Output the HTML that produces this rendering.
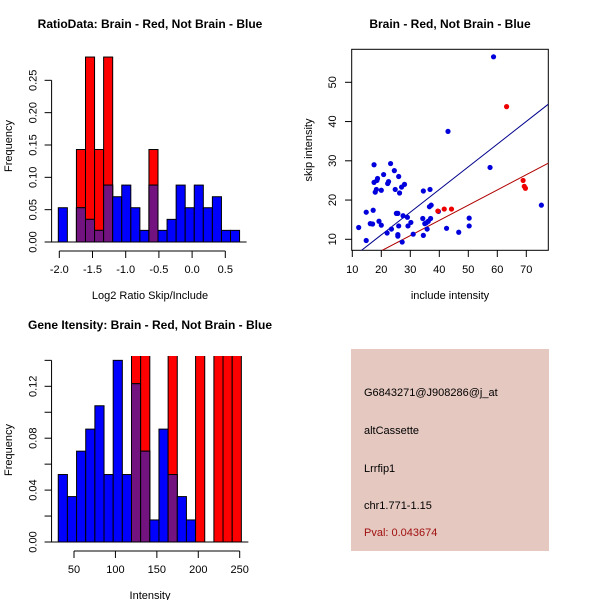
<!DOCTYPE html>
<html><head><meta charset="utf-8"><style>
body{margin:0;background:#fff}
svg{display:block;font-family:"Liberation Sans",sans-serif}
</style></head><body>
<svg id="s" width="600" height="600" viewBox="0 0 600 600">
<defs>
<clipPath id="c3"><rect x="40" y="356" width="220" height="200"/></clipPath>
<clipPath id="c2"><rect x="351.7" y="49.3" width="196.6" height="201"/></clipPath>
</defs>
<g id="p1"></g>
<g id="p2"></g>
<g id="p3"></g>
<g>
<rect x="351" y="349" width="198" height="202" fill="#e5c8c0"/>
<text x="364" y="396" font-size="11">G6843271@J908286@j_at</text>
<text x="364" y="434" font-size="11">altCassette</text>
<text x="364" y="472" font-size="11">Lrrfip1</text>
<text x="364" y="509" font-size="11">chr1.771-1.15</text>
<text x="364" y="536" font-size="11" fill="#a01010">Pval: 0.043674</text>
</g>
</svg>
<script>
// Panel 1 data
const h1Start=-2.015, h1Width=0.1365;
const h1Blue=[0.053,0,0.053,0.035,0.018,0.088,0.070,0.088,0.053,0.018,0.088,0.018,0.035,0.088,0.053,0.088,0.053,0.070,0.018,0.018];
const h1Red=[0,0,0.143,0.286,0.143,0.286,0,0,0,0,0.143,0,0,0,0,0,0,0,0,0];
const h1XTicks=[-2.0,-1.5,-1.0,-0.5,0.0,0.5];
const h1YTicks=[0,0.05,0.10,0.15,0.20,0.25];
// Panel 2 data
const blueX=[12.2,14.8,14.8,16.2,17,17.2,17.5,17.5,17.9,18.3,18.5,18.7,19.2,20,20,20.8,22,22.2,22.5,23.2,23.5,24.5,24.8,25.2,25.7,25.7,25.7,26,26,26.3,27,27.2,27.5,28,29,29.2,30.2,31,34.3,34.5,34.5,35,35.5,35.8,36.2,36.6,36.8,37,37.2,39.7,42.5,43,46.7,50.3,50.3,57.5,58.7,75.2];
const blueY=[13,9.7,16.9,14,13.9,17.4,24.5,29,22,22.7,25,25.5,14.6,13.6,22.5,26.5,11.6,24.2,24.7,29.3,12.6,27.5,22.7,16.6,16.6,11.2,10.8,26,13.4,21.8,23.3,9.3,16,24,15.6,13.4,14.3,11.3,15.3,22.3,11,14,14.2,12.6,14.6,18.3,22.7,15.3,18.7,17.1,12.8,37.5,11.8,15.4,13.4,28.3,56.5,18.7];
const redX=[39.5,41.7,44.2,63.2,68.9,69.3,69.7];
const redY=[17.2,17.7,17.7,43.8,25,23.5,23];
const blueFit=[-0.43,0.578];
const redFit=[-0.7,0.388];
const s2XTicks=[10,20,30,40,50,60,70];
const s2YTicks=[10,20,30,40,50];
// Panel 3 data
const h3Start=31, h3Width=11.05;
const h3Blue=[0.052,0.035,0.070,0.087,0.105,0.052,0.140,0.052,0.122,0.070,0.017,0.087,0.052,0.035,0.017,0,0,0,0,0];
const h3Red=[0,0,0,0,0,0,0,0,0.25,0.25,0,0,0.25,0,0,0.25,0,0.25,0.25,0.25];
const h3XTicks=[50,100,150,200,250];
const h3YTicks=[0,0.02,0.04,0.06,0.08,0.10,0.12,0.14];

const NS='http://www.w3.org/2000/svg';
function mk(p,t,a){const e=document.createElementNS(NS,t);for(const k in a)e.setAttribute(k,a[k]);p.appendChild(e);return e;}
function txt(p,x,y,s,o){const e=mk(p,'text',Object.assign({x:x,y:y,'text-anchor':'middle','font-size':11},o||{}));e.textContent=s;return e;}

function hist(g,start,w,blue,red,xs,ys,xT,yT,yLab,clip){
  const gb=mk(g,'g',clip?{'clip-path':clip}:{});
  for(let i=0;i<blue.length;i++){
    const x0=xs(start+i*w),x1=xs(start+(i+1)*w);
    const b=blue[i],r=red[i];
    const draw=(v,c,nm)=>{if(v<=0)return;const e=mk(gb,'rect',{x:x0,y:ys(v),width:x1-x0,height:ys(0)-ys(v),fill:c,stroke:'#000','stroke-width':1});
      
      };
    if(r>=b){draw(r,'#ff0000','bar-red');draw(b,'#0000ff','bar-blue');}else{draw(b,'#0000ff','bar-blue');draw(r,'#ff0000','bar-red');}
    if(r>0&&b>0)draw(Math.min(r,b),'#72137f','bar-overlap');
  }
  const by=ys(0);
  mk(g,'line',{x1:xs(start)-7,x2:xs(start+blue.length*w)+7,y1:by,y2:by,stroke:'#000'});
  const ax=mk(g,'g',{});
  
  
  const ty=by+9;
  mk(ax,'line',{x1:xs(xT[0]),x2:xs(xT[xT.length-1]),y1:ty,y2:ty,stroke:'#000'});
  xT.forEach(v=>{mk(ax,'line',{x1:xs(v),x2:xs(v),y1:ty,y2:ty+7,stroke:'#000'});txt(ax,xs(v),ty+22,v.toFixed(v%1||xT.some(t=>t%1)?1:0));});
  const ay=mk(g,'g',{});
  
  
  const lx=xs(start)-6.7;
  mk(ay,'line',{x1:lx,x2:lx,y1:ys(yT[0]),y2:ys(yT[yT.length-1]),stroke:'#000'});
  yT.forEach((v,i)=>{mk(ay,'line',{x1:lx,x2:lx-7,y1:ys(v),y2:ys(v),stroke:'#000'});
    if(yLab(i))txt(ay,0,0,v.toFixed(2),{transform:`translate(${lx-15},${ys(v)}) rotate(-90)`});});
}

// Panel 1
(function(){
  const g=document.getElementById('p1');
  const xs=v=>59.3+(v+2)*66.4, ys=v=>242-v*646.7;
  hist(g,h1Start,h1Width,h1Blue,h1Red,xs,ys,h1XTicks,h1YTicks,()=>true,null);
  txt(g,150,28,'RatioData: Brain - Red, Not Brain - Blue',{'font-weight':'bold','font-size':12,});
  txt(g,150,299,'Log2 Ratio Skip/Include',{});
  txt(g,0,0,'Frequency',{transform:'translate(12,146) rotate(-90)',});
})();

// Panel 3
(function(){
  const g=document.getElementById('p3');
  const xs=v=>74+(v-50)*0.8285, ys=v=>542-v*1297.5;
  hist(g,h3Start,h3Width,h3Blue,h3Red,xs,ys,h3XTicks,h3YTicks,i=>i%2==0,'url(#c3)');
  txt(g,150,329,'Gene Itensity: Brain - Red, Not Brain - Blue',{'font-weight':'bold','font-size':12,});
  txt(g,150,599,'Intensity',{});
  txt(g,0,0,'Frequency',{transform:'translate(12,450) rotate(-90)',});
})();

// Panel 2
(function(){
  const g=document.getElementById('p2');
  const xs=v=>352.3+(v-10)*2.9, ys=v=>239.3-(v-10)*3.925;
  mk(g,'rect',{x:351.7,y:49.3,width:196.6,height:201,fill:'none',stroke:'#000'});
  const lg=mk(g,'g',{'clip-path':'url(#c2)'});
  [[blueFit,'#00008b','fit-line-blue'],[redFit,'#b00000','fit-line-red']].forEach(([f,c,n])=>{
    const e=mk(lg,'line',{x1:xs(5),y1:ys(f[0]+f[1]*5),x2:xs(90),y2:ys(f[0]+f[1]*90),stroke:c,'stroke-width':1});
    
    
  });
  blueX.forEach((x,i)=>{const e=mk(g,'circle',{cx:xs(x),cy:ys(blueY[i]),r:2.6,fill:'#0000dd'});
    
    });
  redX.forEach((x,i)=>{const e=mk(g,'circle',{cx:xs(x),cy:ys(redY[i]),r:2.6,fill:'#ee0000'});
    
    });
  s2XTicks.forEach(v=>{mk(g,'line',{x1:xs(v),x2:xs(v),y1:250.3,y2:257,stroke:'#000'});txt(g,xs(v),273,String(v));});
  s2YTicks.forEach(v=>{mk(g,'line',{x1:351.7,x2:345,y1:ys(v),y2:ys(v),stroke:'#000'});txt(g,0,0,String(v),{transform:`translate(336,${ys(v)}) rotate(-90)`});});
  txt(g,450,28,'Brain - Red, Not Brain - Blue',{'font-weight':'bold','font-size':12,});
  txt(g,450,299,'include intensity',{});
  txt(g,0,0,'skip intensity',{transform:'translate(312,150) rotate(-90)',});
})();
</script>
</body></html>
